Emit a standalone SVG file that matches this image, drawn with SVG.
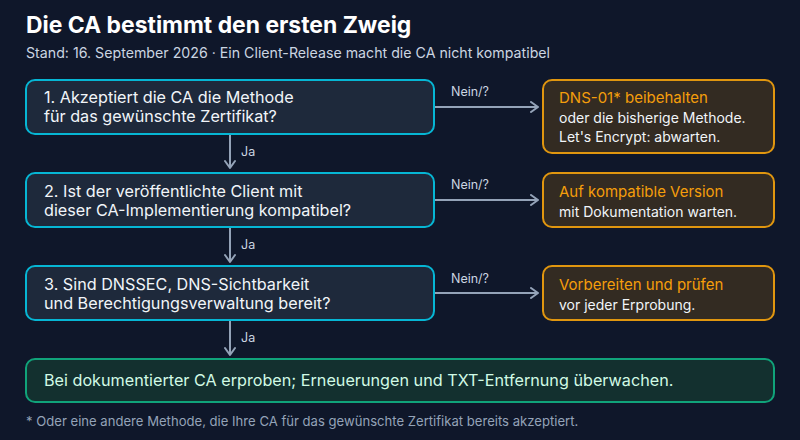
<svg xmlns="http://www.w3.org/2000/svg" width="800" height="440" viewBox="0 0 800 440">
<defs>
<marker id="ah" markerWidth="12" markerHeight="12" refX="9" refY="6" orient="auto" markerUnits="userSpaceOnUse">
<path d="M2,1 L9,6 L2,11" fill="none" stroke="#94a3b8" stroke-width="2" stroke-linecap="round" stroke-linejoin="round"/>
</marker>
<style>
text{font-family:Inter,"Noto Sans","Liberation Sans",sans-serif}
.q{fill:#1e293b;stroke:#06b6d4;stroke-width:2}
.o{fill:#332b22;stroke:#e0960f;stroke-width:2}
.g{fill:#13302f;stroke:#10a37a;stroke-width:2}
.qt{fill:#f1f5f9;font-size:16.2px}
.ot{fill:#f59e0b;font-size:15px}
.os{fill:#f1f5f9;font-size:14px}
.c{stroke:#94a3b8;stroke-width:2;fill:none}
.lb{fill:#cbd5e1;font-size:12.5px}
</style>
</defs>
<rect width="800" height="440" fill="#0f172a"/>
<text x="26" y="33" font-size="22.9" font-weight="700" fill="#ffffff">Die CA bestimmt den ersten Zweig</text>
<text x="26" y="58" font-size="14.2" fill="#cbd5e1">Stand: 16. September 2026 · Ein Client-Release macht die CA nicht kompatibel</text>

<g id="connectors">
<path class="c" d="M230,134 V168" marker-end="url(#ah)"/>
<path class="c" d="M230,227 V262" marker-end="url(#ah)"/>
<path class="c" d="M230,320 V355" marker-end="url(#ah)"/>
<path class="c" d="M434,107 H538" marker-end="url(#ah)"/>
<path class="c" d="M434,200 H538" marker-end="url(#ah)"/>
<path class="c" d="M434,293 H538" marker-end="url(#ah)"/>
<text class="lb" x="241" y="156">Ja</text>
<text class="lb" x="241" y="249">Ja</text>
<text class="lb" x="241" y="342">Ja</text>
<text class="lb" x="451" y="96">Nein/?</text>
<text class="lb" x="451" y="189">Nein/?</text>
<text class="lb" x="451" y="283">Nein/?</text>
</g>

<g id="q1">
<rect class="q" x="26" y="80" width="408" height="54" rx="9"/>
<text class="qt" x="44" y="103">1. Akzeptiert die CA die Methode</text>
<text class="qt" x="44" y="122">für das gewünschte Zertifikat?</text>
</g>
<g id="q2">
<rect class="q" x="26" y="173" width="408" height="54" rx="9"/>
<text class="qt" x="44" y="197">2. Ist der veröffentlichte Client mit</text>
<text class="qt" x="44" y="216">dieser CA-Implementierung kompatibel?</text>
</g>
<g id="q3">
<rect class="q" x="26" y="266" width="408" height="54" rx="9"/>
<text class="qt" x="44" y="290">3. Sind DNSSEC, DNS-Sichtbarkeit</text>
<text class="qt" x="44" y="309">und Berechtigungsverwaltung bereit?</text>
</g>
<g id="a1">
<rect class="o" x="543" y="80" width="231" height="73" rx="9"/>
<text class="ot" x="559" y="103">DNS-01* beibehalten</text>
<text class="os" x="559" y="123">oder die bisherige Methode.</text>
<text class="os" x="559" y="142" font-size="13">Let's Encrypt: abwarten.</text>
</g>
<g id="a2">
<rect class="o" x="543" y="173" width="231" height="54" rx="9"/>
<text class="ot" x="559" y="197">Auf kompatible Version</text>
<text class="os" x="559" y="217">mit Dokumentation warten.</text>
</g>
<g id="a3">
<rect class="o" x="543" y="266" width="231" height="54" rx="9"/>
<text class="ot" x="559" y="290">Vorbereiten und prüfen</text>
<text class="os" x="559" y="310">vor jeder Erprobung.</text>
</g>
<g id="result">
<rect class="g" x="26" y="359" width="748" height="43" rx="9"/>
<text x="44" y="386" font-size="16.2" fill="#d1fae5">Bei dokumentierter CA erproben; Erneuerungen und TXT-Entfernung überwachen.</text>
</g>
<text x="26" y="426" font-size="13.1" fill="#94a3b8">* Oder eine andere Methode, die Ihre CA für das gewünschte Zertifikat bereits akzeptiert.</text>
</svg>
